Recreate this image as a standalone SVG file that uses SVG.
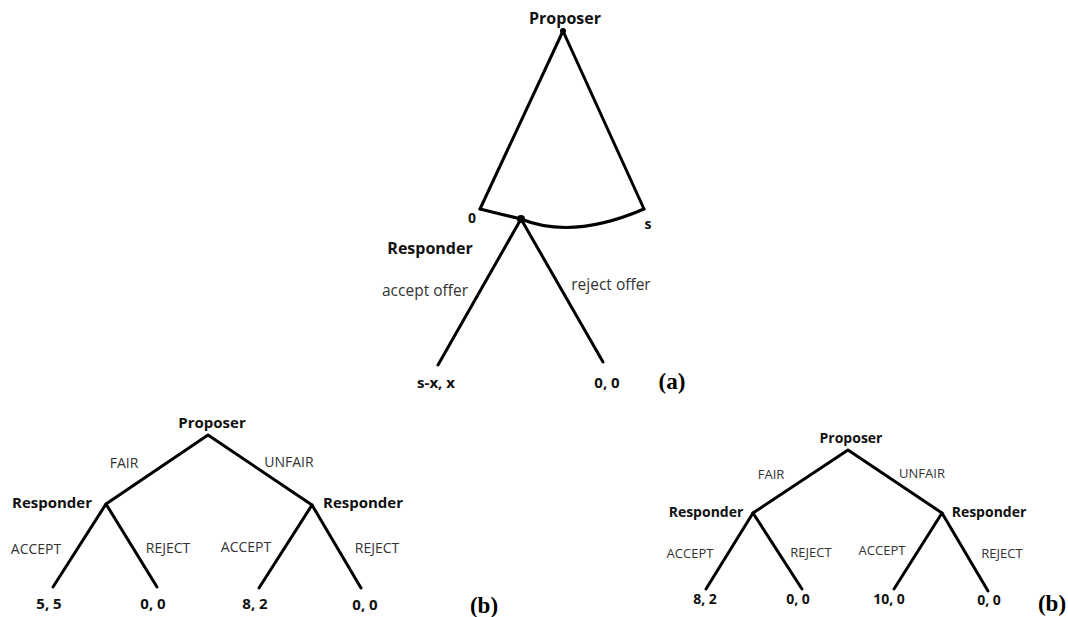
<svg xmlns="http://www.w3.org/2000/svg" width="1068" height="617" viewBox="0 0 1068 617">
<style>
.e{stroke:#000;stroke-width:3;fill:none;stroke-linecap:round;stroke-linejoin:round}
.b{font-family:"Open Sans","Liberation Sans",sans-serif;font-weight:bold;fill:#111}
.l{font-family:"Open Sans","Liberation Sans",sans-serif;fill:#333}
.t{font-family:"Liberation Serif",serif;font-weight:bold;font-size:23px;fill:#000}
.a{font-size:16px}.m{font-size:15px}.s{font-size:14px}.x{font-size:13px}.v{font-size:15.5px}
</style>
<rect width="1068" height="617" fill="#fff"/>
<g id="connectors">
<path class="e" d="M480,209 L563,31 L644,209"/>
<path class="e" d="M480,209 Q500,214 521,219 Q572,240 644,209"/>
<path class="e" d="M438,365 L521,219 L603,362"/>
<path class="e" d="M106,504 L208,435 L312,505"/>
<path class="e" d="M53,587 L106,504 L157,587"/>
<path class="e" d="M259,588 L312,505 L361,588"/>
<path class="e" d="M753,513 L848,450 L942,513"/>
<path class="e" d="M706,589 L753,513 L802,589"/>
<path class="e" d="M894,589 L942,513 L988,591"/>
</g>
<g id="a-proposer"><circle cx="563" cy="31" r="3"/><text class="b a" x="565" y="24" text-anchor="middle">Proposer</text></g>
<g id="a-0"><text class="b s" x="472" y="223" text-anchor="middle">0</text></g>
<g id="a-s"><text class="b s" x="648" y="229" text-anchor="middle">s</text></g>
<g id="a-responder"><circle cx="521" cy="219" r="4"/><text class="b a" x="430" y="254" text-anchor="middle">Responder</text></g>
<g id="a-labels"><text class="l v" x="425" y="296" text-anchor="middle">accept offer</text><text class="l v" x="611" y="290" text-anchor="middle">reject offer</text></g>
<g id="a-leaf1"><text class="b m" x="436" y="388" text-anchor="middle">s-x, x</text></g>
<g id="a-leaf2"><text class="b m" x="607" y="388" text-anchor="middle">0, 0</text></g>
<text class="t" x="672" y="389" text-anchor="middle">(a)</text>

<g id="b1-proposer"><text class="b m" x="212" y="428" text-anchor="middle">Proposer</text></g>
<g id="b1-labels"><text class="l s" x="124" y="468" text-anchor="middle">FAIR</text><text class="l s" x="289" y="467" text-anchor="middle">UNFAIR</text></g>
<g id="b1-resp-left"><text class="b m" x="52" y="508" text-anchor="middle">Responder</text></g>
<g id="b1-resp-right"><text class="b m" x="363" y="508" text-anchor="middle">Responder</text></g>
<g id="b1-branch-labels"><text class="l s" x="36" y="554" text-anchor="middle">ACCEPT</text><text class="l s" x="168" y="553" text-anchor="middle">REJECT</text><text class="l s" x="246" y="552" text-anchor="middle">ACCEPT</text><text class="l s" x="377" y="553" text-anchor="middle">REJECT</text></g>
<g id="b1-leaves"><text class="b m" x="49" y="609" text-anchor="middle">5, 5</text><text class="b m" x="153" y="609" text-anchor="middle">0, 0</text><text class="b m" x="255" y="609" text-anchor="middle">8, 2</text><text class="b m" x="365" y="610" text-anchor="middle">0, 0</text></g>
<text class="t" x="484" y="613" text-anchor="middle">(b)</text>

<g id="b2-proposer"><text class="b s" x="851" y="443" text-anchor="middle">Proposer</text></g>
<g id="b2-labels"><text class="l x" x="771" y="479" text-anchor="middle">FAIR</text><text class="l x" x="922" y="478" text-anchor="middle">UNFAIR</text></g>
<g id="b2-resp-left"><text class="b s" x="706" y="517" text-anchor="middle">Responder</text></g>
<g id="b2-resp-right"><text class="b s" x="989" y="517" text-anchor="middle">Responder</text></g>
<g id="b2-branch-labels"><text class="l x" x="690" y="558" text-anchor="middle">ACCEPT</text><text class="l x" x="811" y="557" text-anchor="middle">REJECT</text><text class="l x" x="882" y="555" text-anchor="middle">ACCEPT</text><text class="l x" x="1002" y="558" text-anchor="middle">REJECT</text></g>
<g id="b2-leaves"><text class="b s" x="705" y="604" text-anchor="middle">8, 2</text><text class="b s" x="798" y="604" text-anchor="middle">0, 0</text><text class="b s" x="889" y="604" text-anchor="middle">10, 0</text><text class="b s" x="989" y="605" text-anchor="middle">0, 0</text></g>
<text class="t" x="1052" y="611" text-anchor="middle">(b)</text>
</svg>
